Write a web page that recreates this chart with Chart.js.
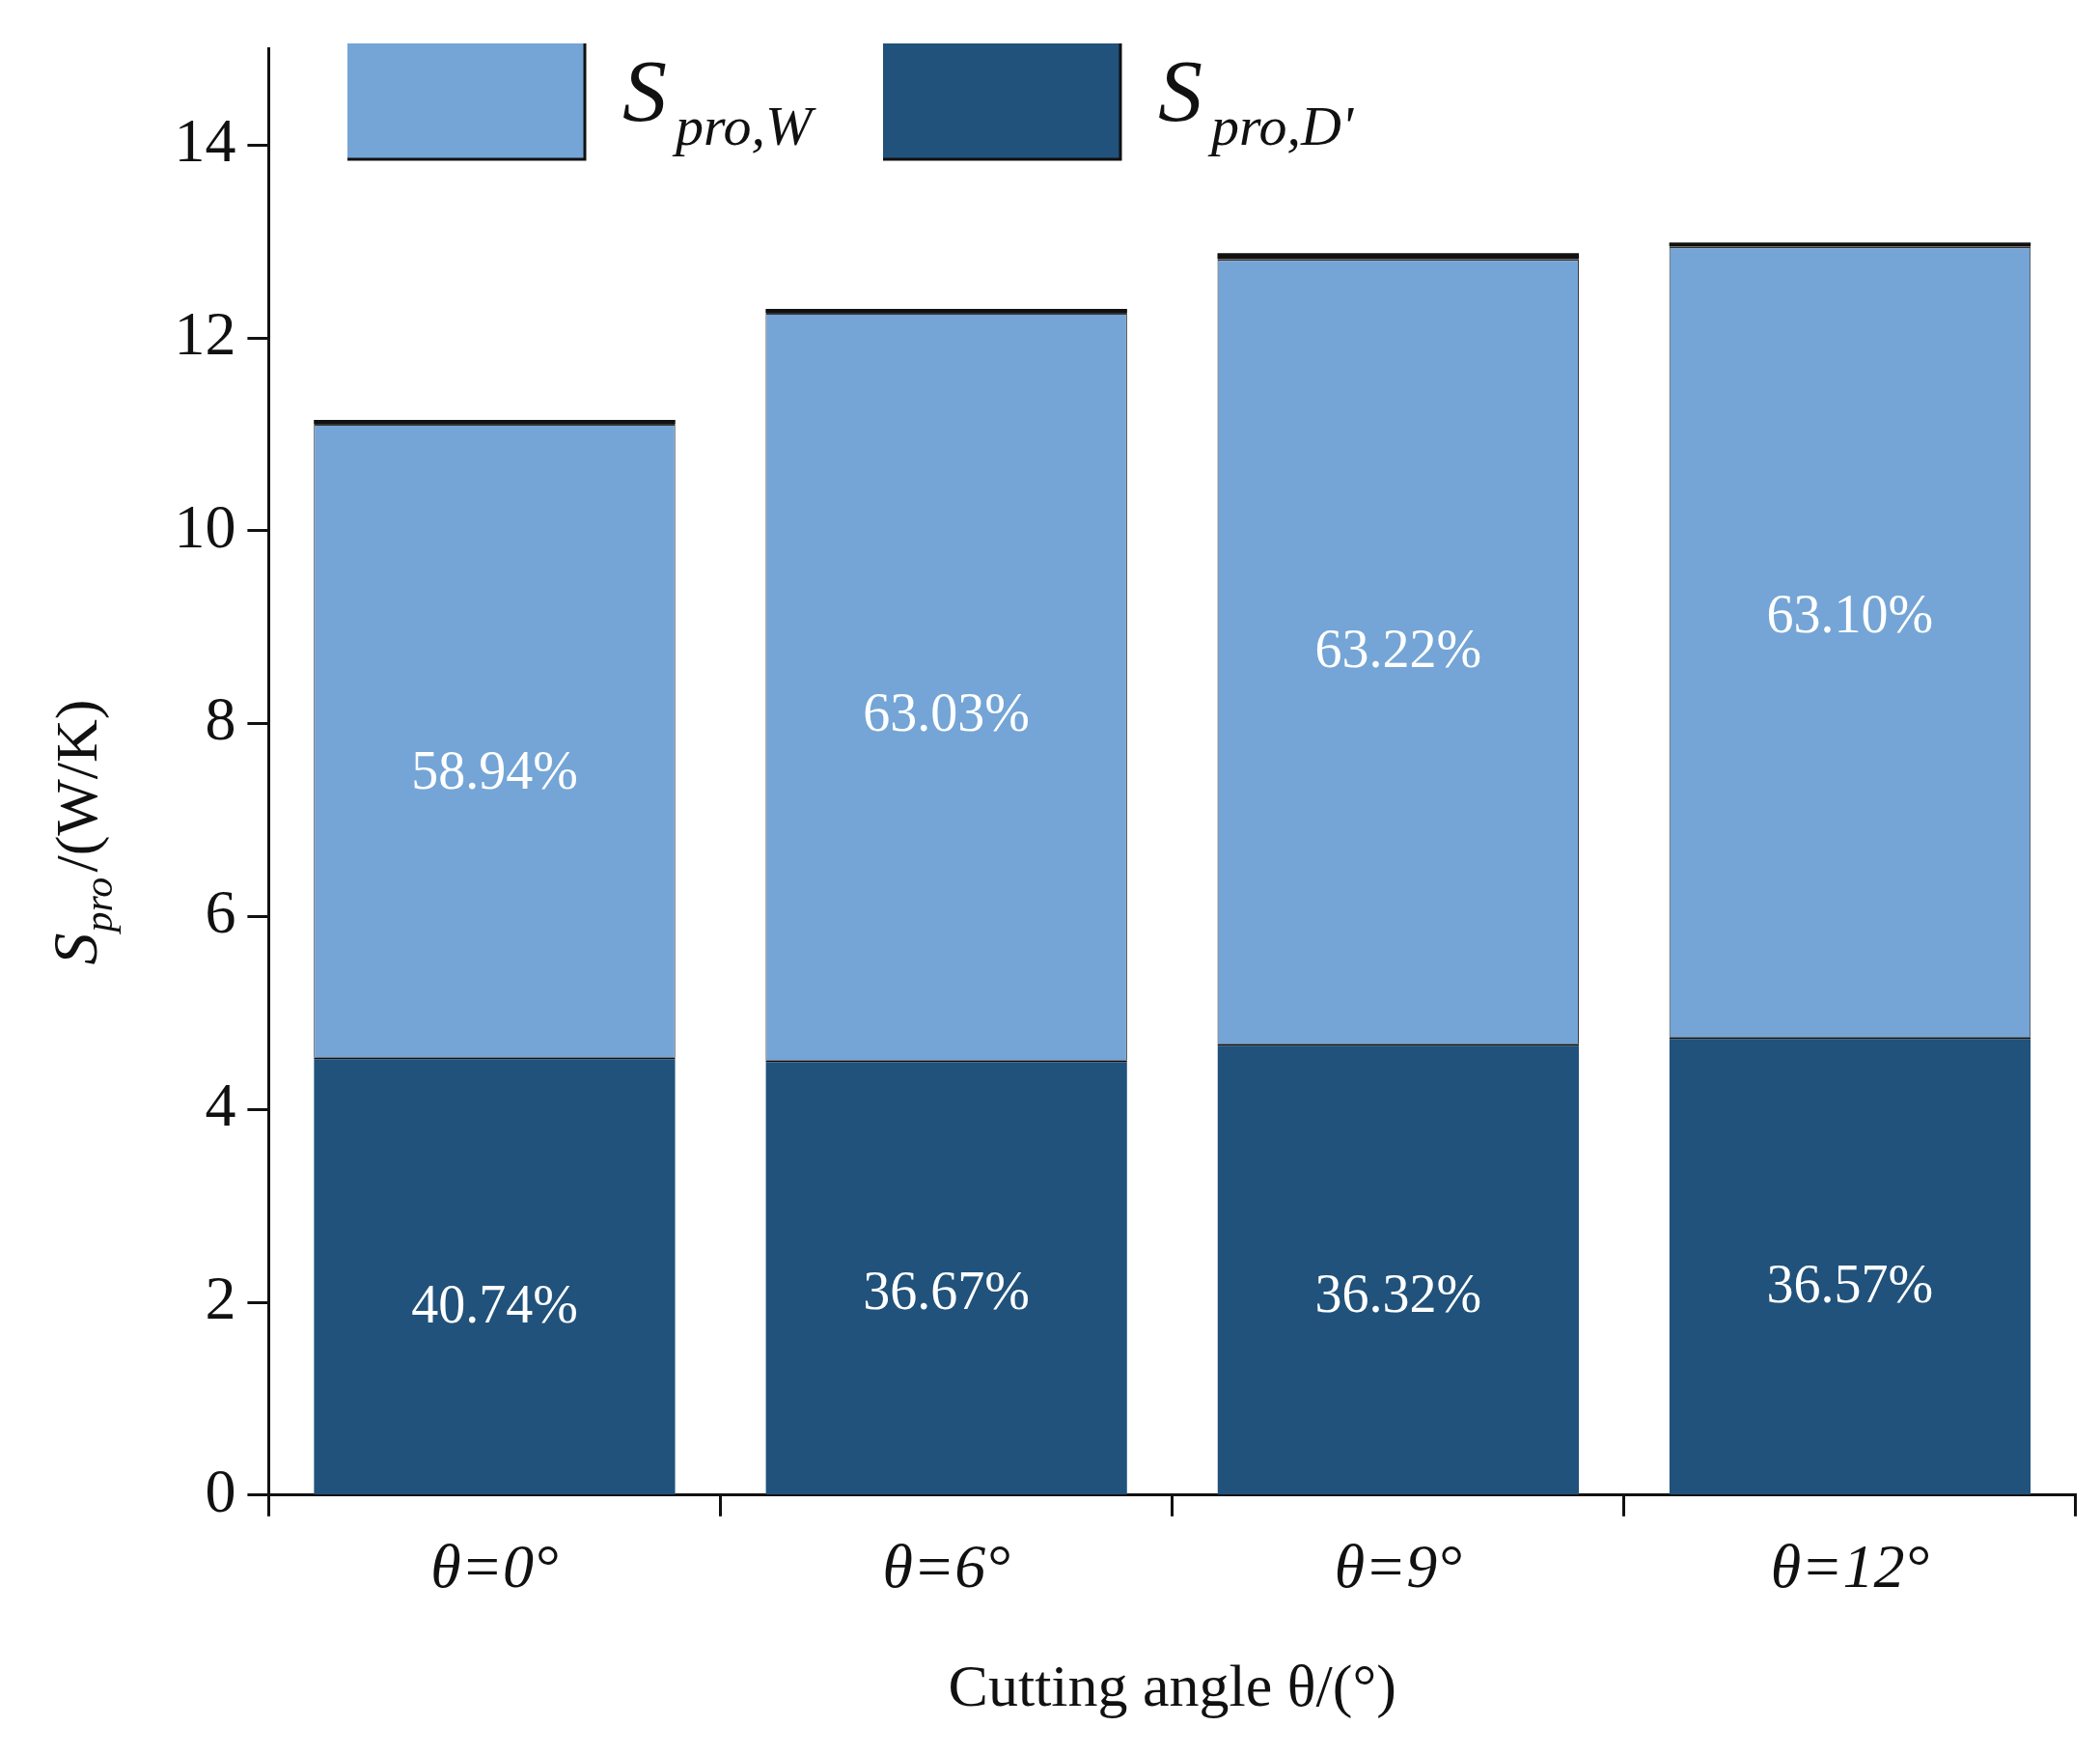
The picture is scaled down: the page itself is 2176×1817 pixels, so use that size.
<!DOCTYPE html><html><head><meta charset="utf-8">
<script src="https://cdn.jsdelivr.net/npm/chart.js@4"></script>
<style>html,body{margin:0;background:#fff}#w{width:2176px;height:1817px}</style></head><body>
<div id="w"><canvas id="c"></canvas></div>
<script>
const categories=['θ=0°','θ=6°','θ=9°','θ=12°'];
const sproD=[4.54,4.51,4.68,4.75];
const sproW=[6.57,7.75,8.14,8.20];
const sproRest=[0.04,0.04,0.06,0.04];
const pctD=['40.74%','36.67%','36.32%','36.57%'];
const pctW=['58.94%','63.03%','63.22%','63.10%'];
const pctDy=[1.94,2.08,2.05,2.15];
const pctWy=[7.47,8.07,8.73,9.09];
const yTicks=[0,2,4,6,8,10,12,14];
const F='"Liberation Serif","DejaVu Serif",serif';
const light='#74a5d6',dark='#20527b';
const deco={id:'deco',afterDatasetsDraw(ch){
  const c=ch.ctx,x=ch.scales.x,y=ch.scales.y;
  c.save();c.fillStyle='#fff';c.font='56px '+F;c.textAlign='center';c.textBaseline='middle';
  categories.forEach((_,i)=>{const px=x.getPixelForValue(i);
    c.fillText(pctD[i],px,y.getPixelForValue(pctDy[i]));
    c.fillText(pctW[i],px,y.getPixelForValue(pctWy[i]));});
  const items=[[light,360,'W'],[dark,915,"D'"]];
  items.forEach(([col,lx,sub])=>{
    c.fillStyle=col;c.fillRect(lx,45,246,120);c.strokeStyle='#111';c.lineWidth=3;
    c.beginPath();c.moveTo(lx,165);c.lineTo(lx+246,165);c.lineTo(lx+246,45);c.stroke();
    c.fillStyle='#111';c.textAlign='left';c.textBaseline='alphabetic';
    c.font='italic 92px '+F;c.fillText('S',lx+285,125);
    c.font='italic 58px '+F;c.fillText('pro,'+sub,lx+340,150);
  });
  c.translate(80,(y.top+y.bottom)/2);c.rotate(-Math.PI/2);
  c.textAlign='left';c.textBaseline='alphabetic';
  c.font='italic 66px '+F;c.fillText('S',-200,20);
  c.font='italic 42px '+F;c.fillText('pro',-166,36);
  c.font='62px '+F;c.fillText('/(W/K)',-104,20);
  c.restore();
}};
const g={display:true,drawOnChartArea:false,drawTicks:true,tickLength:22,tickWidth:3,color:'#111'};
new Chart(document.getElementById('c'),{type:'bar',
 data:{labels:categories,datasets:[
  {label:"S_pro,D'",data:sproD,backgroundColor:dark,borderColor:'#111',borderWidth:{top:2},barPercentage:0.8,categoryPercentage:1},
  {label:'S_pro,W',data:sproW,backgroundColor:light,borderColor:'#333',borderWidth:{top:2,left:1,right:1},barPercentage:0.8,categoryPercentage:1},
  {label:'rest',data:sproRest,backgroundColor:'#111',barPercentage:0.8,categoryPercentage:1}]},
 options:{responsive:true,maintainAspectRatio:false,animation:false,
  layout:{padding:{left:60,right:25,top:42,bottom:25}},
  plugins:{legend:{display:false},tooltip:{enabled:false}},
  scales:{
   x:{stacked:true,grid:g,border:{color:'#111',width:3},
      ticks:{color:'#111',font:{family:F,size:64,style:'italic'},padding:18},
      title:{display:true,text:'Cutting angle θ/(°)',color:'#111',font:{family:F,size:62},padding:{top:30}}},
   y:{stacked:true,min:0,max:15,afterBuildTicks:s=>{s.ticks=yTicks.map(v=>({value:v}));},
      grid:g,border:{color:'#111',width:3},
      ticks:{color:'#111',font:{family:F,size:64},padding:12},
      title:{display:true,text:' ',font:{size:62},padding:{bottom:30}}}}},
 plugins:[deco]});
</script></body></html>
